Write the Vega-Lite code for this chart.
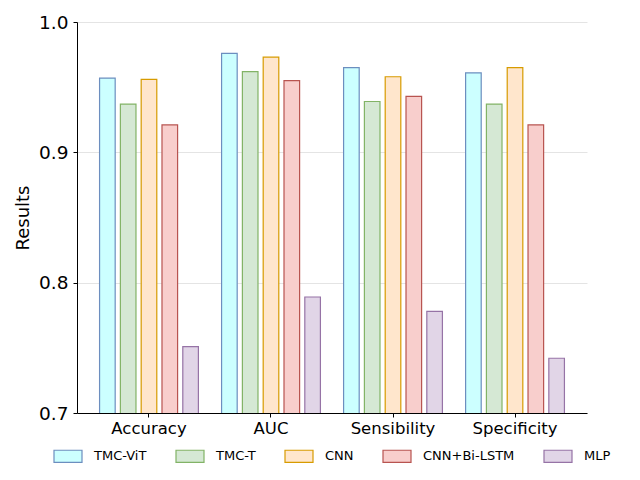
{
  "$schema": "https://vega.github.io/schema/vega-lite/v6.json",
  "width": 510,
  "height": 391,
  "autosize": "none",
  "padding": {"left": 77, "top": 22, "right": 53, "bottom": 67},
  "background": "white",
  "data": {
    "values": [
      {"metric": "Accuracy", "model": "TMC-ViT", "value": 0.957},
      {"metric": "Accuracy", "model": "TMC-T", "value": 0.937},
      {"metric": "Accuracy", "model": "CNN", "value": 0.956},
      {"metric": "Accuracy", "model": "CNN+Bi-LSTM", "value": 0.921},
      {"metric": "Accuracy", "model": "MLP", "value": 0.751},
      {"metric": "AUC", "model": "TMC-ViT", "value": 0.976},
      {"metric": "AUC", "model": "TMC-T", "value": 0.962},
      {"metric": "AUC", "model": "CNN", "value": 0.973},
      {"metric": "AUC", "model": "CNN+Bi-LSTM", "value": 0.955},
      {"metric": "AUC", "model": "MLP", "value": 0.789},
      {"metric": "Sensibility", "model": "TMC-ViT", "value": 0.965},
      {"metric": "Sensibility", "model": "TMC-T", "value": 0.939},
      {"metric": "Sensibility", "model": "CNN", "value": 0.958},
      {"metric": "Sensibility", "model": "CNN+Bi-LSTM", "value": 0.943},
      {"metric": "Sensibility", "model": "MLP", "value": 0.778},
      {"metric": "Specificity", "model": "TMC-ViT", "value": 0.961},
      {"metric": "Specificity", "model": "TMC-T", "value": 0.937},
      {"metric": "Specificity", "model": "CNN", "value": 0.965},
      {"metric": "Specificity", "model": "CNN+Bi-LSTM", "value": 0.921},
      {"metric": "Specificity", "model": "MLP", "value": 0.742}
    ]
  },
  "mark": {"type": "bar", "strokeWidth": 1.2, "clip": true},
  "encoding": {
    "x": {
      "field": "metric",
      "type": "nominal",
      "sort": ["Accuracy", "AUC", "Sensibility", "Specificity"],
      "scale": {"paddingInner": 0.19, "paddingOuter": 0.185},
      "axis": {
        "title": null,
        "labelAngle": 0,
        "labelFont": "DejaVu Sans",
        "labelFontSize": 16.5,
        "labelColor": "black",
        "domainColor": "black",
        "tickColor": "black",
        "tickSize": 4,
        "labelPadding": 3,
        "grid": false
      }
    },
    "xOffset": {
      "field": "model",
      "type": "nominal",
      "sort": ["TMC-ViT", "TMC-T", "CNN", "CNN+Bi-LSTM", "MLP"],
      "scale": {"paddingInner": 0.25, "paddingOuter": 0}
    },
    "y": {
      "field": "value",
      "type": "quantitative",
      "scale": {"domain": [0.7, 1.0], "nice": false, "zero": false},
      "axis": {
        "title": "Results",
        "titleFont": "DejaVu Sans",
        "titleFontSize": 18,
        "titleFontWeight": "normal",
        "titleColor": "black",
        "titlePadding": 6,
        "values": [0.7, 0.8, 0.9, 1.0],
        "format": ".1f",
        "labelFont": "DejaVu Sans",
        "labelFontSize": 18.5,
        "labelColor": "black",
        "domainColor": "black",
        "tickColor": "black",
        "tickSize": 4,
        "labelPadding": 5,
        "grid": true,
        "gridColor": "#dddddd",
        "gridWidth": 0.8
      }
    },
    "fill": {
      "field": "model",
      "type": "nominal",
      "sort": ["TMC-ViT", "TMC-T", "CNN", "CNN+Bi-LSTM", "MLP"],
      "scale": {
        "domain": ["TMC-ViT", "TMC-T", "CNN", "CNN+Bi-LSTM", "MLP"],
        "range": ["#ccffff", "#d5e8d4", "#ffe6cc", "#f8cecc", "#e1d5e7"]
      },
      "legend": {
        "title": null,
        "orient": "bottom",
        "direction": "horizontal",
        "symbolType": "M-1,-0.43H1V0.43H-1Z",
        "symbolSize": 784,
        "symbolStrokeWidth": 1.2,
        "labelFont": "DejaVu Sans",
        "labelFontSize": 13,
        "labelColor": "black",
        "labelOffset": 11,
        "columnPadding": 26,
        "offset": 4
      }
    },
    "stroke": {
      "field": "model",
      "type": "nominal",
      "sort": ["TMC-ViT", "TMC-T", "CNN", "CNN+Bi-LSTM", "MLP"],
      "scale": {
        "domain": ["TMC-ViT", "TMC-T", "CNN", "CNN+Bi-LSTM", "MLP"],
        "range": ["#6c8ebf", "#82b366", "#d79b00", "#b85450", "#9673a6"]
      },
      "legend": {
        "title": null,
        "orient": "bottom",
        "direction": "horizontal",
        "symbolType": "M-1,-0.43H1V0.43H-1Z",
        "symbolSize": 784,
        "symbolStrokeWidth": 1.2,
        "labelFont": "DejaVu Sans",
        "labelFontSize": 13,
        "labelColor": "black",
        "labelOffset": 11,
        "columnPadding": 26,
        "offset": 4
      }
    }
  },
  "config": {
    "view": {"stroke": null},
    "legend": {"layout": {"bottom": {"anchor": "middle"}}}
  }
}
